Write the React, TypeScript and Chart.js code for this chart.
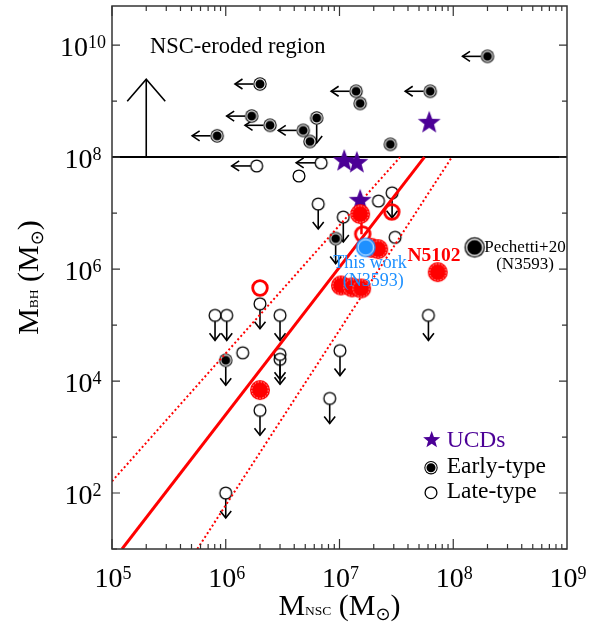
import React, { useEffect, useRef } from "react";
import { Chart, registerables } from "chart.js";
Chart.register(...registerables);

// ---------------- DATA ----------------
const X_MIN = 1e5;
const X_MAX = 1e9;
const Y_MIN = 10;
const Y_MAX = 5e10;
const xTickExps = [5, 6, 7, 8, 9];
const yTickExps = [2, 4, 6, 8, 10];

// early-type galaxies
const earlyLeftX = [2.0e6, 1.69e6, 2.45e6, 8.4e5, 4.8e6, 1.4e7, 6.27e7, 2.0e8];
const earlyLeftY = [2.02e9, 5.4e8, 3.7e8, 2.4e8, 3.0e8, 1.5e9, 1.5e9, 6.3e9];
const earlyDownX = [6.3e6, 9.25e6, 1.0e6];
const earlyDownY = [5.0e8, 3.5e6, 2.35e4];
const earlyX = [5.5e6, 1.52e7, 2.8e7];
const earlyY = [1.9e8, 9.1e8, 1.69e8];

// late-type galaxies
const lateLeftX = [1.87e6, 6.9e6];
const lateLeftY = [6.95e7, 7.9e7];
const lateDownX = [6.5e6, 1.08e7, 2.9e7, 2.0e6, 8.05e5, 1.02e6, 3.0e6, 3.0e6, 3.0e6, 1.01e7, 8.2e6, 2.0e6, 6.05e7, 1.0e6];
const lateDownY = [1.45e7, 8.5e6, 2.3e7, 2.4e5, 1.49e5, 1.49e5, 1.49e5, 3.0e4, 2.45e4, 3.5e4, 4.9e3, 3.0e3, 1.49e5, 100];
const lateX = [4.4e6, 2.2e7, 3.08e7, 1.41e6];
const lateY = [4.6e7, 1.64e7, 3.7e6, 3.2e4];

// red (dynamical) measurements
const redFilledX = [1.52e7, 1.9e7, 2.19e7, 1.03e7, 1.29e7, 1.55e7, 2.0e6];
const redFilledY = [9.6e6, 2.4e6, 2.27e6, 5.1e5, 4.7e5, 4.5e5, 6.9e3];
const n5102X = [7.3e7];
const n5102Y = [8.8e5];
const redOpenX = [2.0e6, 2.88e7, 1.6e7];
const redOpenY = [4.6e5, 1.05e7, 4.2e6];
const redLinkX = [1.56e7, 1.56e7];
const redLinkY = [9.6e6, 4.2e6];

// this work & Pechetti+20
const thisWorkX = [1.7e7];
const thisWorkY = [2.44e6];
const pechettiX = [1.54e8];
const pechettiY = [2.44e6];

// UCDs
const ucdX = [1.1e7, 1.42e7, 6.15e7, 1.52e7];
const ucdY = [8.5e7, 7.9e7, 4.1e8, 1.66e7];

// relations
const fitX = [1.225e5, 5.58e7];
const fitY = [10, 1e8];
const upperX = [1e5, 3.41e7];
const upperY = [162, 1e8];
const lowerX = [5.62e5, 9.73e7];
const lowerY = [10, 1e8];
const limitLineX = [1e5, 1e9];
const limitLineY = [1e8, 1e8];
const erodedArrowX = [2e5, 2e5];
const erodedArrowY = [1e8, 2.45e9];

// texts
const regionLabel = "NSC-eroded region";
const pechettiLabel = ["Pechetti+20", "(N3593)"];
const n5102Label = "N5102";
const thisWorkLabel = ["This work", "(N3593)"];
const legendLabels = ["UCDs", "Early-type", "Late-type"];

// ---------------- STYLE ----------------
const SERIF = '"Liberation Serif", "Times New Roman", serif';
const RED = "#FF0000";
const BLUE = "#1E90FF";
const PURPLE = "#4B0096";
const AXIS = "#333333";

function mk(size: number, draw: (ctx: CanvasRenderingContext2D, c: number) => void) {
  const cv = document.createElement("canvas");
  cv.width = size;
  cv.height = size;
  const ctx = cv.getContext("2d")!;
  draw(ctx, size / 2);
  return cv;
}
function circ(ctx: CanvasRenderingContext2D, x: number, y: number, r: number) {
  ctx.beginPath();
  ctx.arc(x, y, r, 0, Math.PI * 2);
}
function starPath(ctx: CanvasRenderingContext2D, cx: number, cy: number, R: number, ratio: number) {
  ctx.beginPath();
  for (let i = 0; i < 10; i++) {
    const r = i % 2 === 0 ? R : R * ratio;
    const a = -Math.PI / 2 + (i * Math.PI) / 5;
    const x = cx + r * Math.cos(a);
    const y = cy + r * Math.sin(a);
    if (i === 0) ctx.moveTo(x, y);
    else ctx.lineTo(x, y);
  }
  ctx.closePath();
}
function drawEarly(ctx: CanvasRenderingContext2D, x: number, y: number, r: number) {
  circ(ctx, x, y, r);
  ctx.fillStyle = "#000";
  ctx.fill();
  circ(ctx, x, y, r * 0.76);
  ctx.strokeStyle = "#fff";
  ctx.lineWidth = 1.1;
  ctx.stroke();
}
function drawLate(ctx: CanvasRenderingContext2D, x: number, y: number, r: number) {
  circ(ctx, x, y, r);
  ctx.strokeStyle = "#000";
  ctx.lineWidth = 1.3;
  ctx.stroke();
}
function drawStar(ctx: CanvasRenderingContext2D, x: number, y: number, R: number) {
  starPath(ctx, x, y, R, 0.42);
  ctx.fillStyle = PURPLE;
  ctx.fill();
}

const earlyImg = mk(18, (ctx, c) => drawEarly(ctx, c, c, 6.7));
const lateImg = mk(18, (ctx, c) => drawLate(ctx, c, c, 5.9));
const pechettiImg = mk(26, (ctx, c) => {
  circ(ctx, c, c, 10.2);
  ctx.fillStyle = "#000";
  ctx.fill();
  circ(ctx, c, c, 8.2);
  ctx.strokeStyle = "#fff";
  ctx.lineWidth = 1.4;
  ctx.stroke();
});
const redFilledImg = mk(26, (ctx, c) => {
  circ(ctx, c, c, 10);
  ctx.fillStyle = RED;
  ctx.fill();
  circ(ctx, c, c, 8.2);
  ctx.strokeStyle = "rgba(255,255,255,0.85)";
  ctx.setLineDash([1.5, 1.5]);
  ctx.lineWidth = 0.8;
  ctx.stroke();
});
const redOpenImg = mk(22, (ctx, c) => {
  circ(ctx, c, c, 7.3);
  ctx.strokeStyle = RED;
  ctx.lineWidth = 2.8;
  ctx.stroke();
});
const blueImg = mk(24, (ctx, c) => {
  circ(ctx, c, c, 9.8);
  ctx.fillStyle = BLUE;
  ctx.fill();
  circ(ctx, c, c, 7.8);
  ctx.strokeStyle = "rgba(255,255,255,0.9)";
  ctx.lineWidth = 1;
  ctx.stroke();
});
const starImg = mk(30, (ctx, c) => drawStar(ctx, c, c, 12));

const pts = (xs: number[], ys: number[]) => xs.map((x, i) => ({ x, y: ys[i] }));

function pointSet(label: string, xs: number[], ys: number[], img: HTMLCanvasElement, order: number, arrow?: string, arrowR?: number) {
  return {
    label,
    data: pts(xs, ys),
    pointStyle: img,
    pointRadius: 5,
    pointHoverRadius: 5,
    showLine: false,
    order,
    arrow,
    arrowR,
  } as any;
}
function lineSet(label: string, xs: number[], ys: number[], color: string, width: number, order: number, dash: number[] = []) {
  return {
    label,
    data: pts(xs, ys),
    showLine: true,
    borderColor: color,
    borderWidth: width,
    borderDash: dash,
    pointRadius: 0,
    fill: false,
    order,
  } as any;
}

// ---------------- PLUGIN ----------------
function drawPow(ctx: CanvasRenderingContext2D, exp: number, cx: number, baseline: number) {
  const big = `28px ${SERIF}`;
  const small = `18px ${SERIF}`;
  ctx.font = big;
  const wb = ctx.measureText("10").width;
  ctx.font = small;
  const we = ctx.measureText(String(exp)).width;
  const x0 = cx - (wb + we) / 2;
  ctx.textAlign = "left";
  ctx.textBaseline = "alphabetic";
  ctx.fillStyle = "#000";
  ctx.font = big;
  ctx.fillText("10", x0, baseline);
  ctx.font = small;
  ctx.fillText(String(exp), x0 + wb, baseline - 7.5);
}

type Part = { t: string; f: string; dy?: number };
function drawParts(ctx: CanvasRenderingContext2D, parts: Part[], cx: number, baseline: number) {
  let total = 0;
  for (const p of parts) {
    ctx.font = p.f;
    total += ctx.measureText(p.t).width;
  }
  let x = cx - total / 2;
  ctx.textAlign = "left";
  ctx.textBaseline = "alphabetic";
  for (const p of parts) {
    ctx.font = p.f;
    ctx.fillText(p.t, x, baseline + (p.dy || 0));
    x += ctx.measureText(p.t).width;
  }
}

function arrowHead(ctx: CanvasRenderingContext2D, tx: number, ty: number, dir: string, back: number, half: number) {
  ctx.beginPath();
  if (dir === "left") {
    ctx.moveTo(tx + back, ty - half);
    ctx.lineTo(tx, ty);
    ctx.lineTo(tx + back, ty + half);
  } else if (dir === "down") {
    ctx.moveTo(tx - half, ty - back);
    ctx.lineTo(tx, ty);
    ctx.lineTo(tx + half, ty - back);
  } else {
    ctx.moveTo(tx - half, ty + back);
    ctx.lineTo(tx, ty);
    ctx.lineTo(tx + half, ty + back);
  }
  ctx.stroke();
}

const decor = {
  id: "decor",
  beforeDatasetsDraw(chart: any) {
    const ctx: CanvasRenderingContext2D = chart.ctx;
    ctx.save();
    ctx.strokeStyle = "#000";
    ctx.lineWidth = 1.6;
    chart.data.datasets.forEach((ds: any, i: number) => {
      if (!ds.arrow) return;
      const meta = chart.getDatasetMeta(i);
      meta.data.forEach((el: any) => {
        const L = 25;
        const r = ds.arrowR || 6;
        ctx.beginPath();
        if (ds.arrow === "left") {
          ctx.moveTo(el.x - r, el.y);
          ctx.lineTo(el.x - L, el.y);
          ctx.stroke();
          arrowHead(ctx, el.x - L, el.y, "left", 7.5, 5);
        } else {
          ctx.moveTo(el.x, el.y + r);
          ctx.lineTo(el.x, el.y + L);
          ctx.stroke();
          arrowHead(ctx, el.x, el.y + L, "down", 7, 5.5);
        }
      });
    });
    // eroded-region arrow head
    const xs = chart.scales.x;
    const ys = chart.scales.y;
    const tx = xs.getPixelForValue(erodedArrowX[1]);
    const ty = ys.getPixelForValue(erodedArrowY[1]);
    ctx.lineWidth = 1.6;
    arrowHead(ctx, tx, ty, "up", 22, 19);
    ctx.restore();
  },
  afterDraw(chart: any) {
    const ctx: CanvasRenderingContext2D = chart.ctx;
    const a = chart.chartArea;
    const xs = chart.scales.x;
    const ys = chart.scales.y;
    ctx.save();
    // frame
    ctx.strokeStyle = AXIS;
    ctx.lineWidth = 1.5;
    ctx.strokeRect(a.left, a.top, a.right - a.left, a.bottom - a.top);
    // x ticks
    ctx.lineWidth = 1.2;
    for (let e = 5; e <= 8; e++) {
      for (let m = 1; m <= 9; m++) {
        const v = m * Math.pow(10, e);
        const px = xs.getPixelForValue(v);
        const len = m === 1 ? 10 : 5;
        ctx.beginPath();
        ctx.moveTo(px, a.bottom);
        ctx.lineTo(px, a.bottom - len);
        ctx.moveTo(px, a.top);
        ctx.lineTo(px, a.top + len);
        ctx.stroke();
      }
    }
    // y ticks
    for (let e = 1; e <= 10; e++) {
      const py = ys.getPixelForValue(Math.pow(10, e));
      const len = e % 2 === 0 ? 8 : 5;
      ctx.beginPath();
      ctx.moveTo(a.left, py);
      ctx.lineTo(a.left + len, py);
      ctx.moveTo(a.right, py);
      ctx.lineTo(a.right - len, py);
      ctx.stroke();
    }
    // tick labels
    xTickExps.forEach((e) => {
      drawPow(ctx, e, xs.getPixelForValue(Math.pow(10, e)) + 1, a.bottom + 37.5);
    });
    yTickExps.forEach((e) => {
      drawPow(ctx, e, 83, ys.getPixelForValue(Math.pow(10, e)) + 10.5);
    });
    // axis titles
    ctx.fillStyle = "#000";
    const big = `30px ${SERIF}`;
    const sub = `13.5px ${SERIF}`;
    const sun = `18px "DejaVu Sans"`;
    drawParts(
      ctx,
      [
        { t: "M", f: big },
        { t: "NSC", f: sub },
        { t: " (M", f: big },
        { t: "\u2299", f: sun, dy: 5 },
        { t: ")", f: big },
      ],
      (a.left + a.right) / 2,
      615
    );
    ctx.save();
    ctx.translate(38, (a.top + a.bottom) / 2);
    ctx.rotate(-Math.PI / 2);
    drawParts(
      ctx,
      [
        { t: "M", f: big },
        { t: "BH", f: sub },
        { t: " (M", f: big },
        { t: "\u2299", f: sun, dy: 5 },
        { t: ")", f: big },
      ],
      0,
      0
    );
    ctx.restore();

    // annotations
    ctx.textAlign = "left";
    ctx.textBaseline = "alphabetic";
    ctx.fillStyle = "#000";
    ctx.font = `22.5px ${SERIF}`;
    ctx.fillText(regionLabel, 150, 53.3);

    ctx.textAlign = "center";
    ctx.font = `17px ${SERIF}`;
    ctx.fillText(pechettiLabel[0], 525, 251.7);
    ctx.fillText(pechettiLabel[1], 525, 268.5);

    ctx.fillStyle = RED;
    ctx.font = `bold 19.5px ${SERIF}`;
    ctx.fillText(n5102Label, 434, 261);

    ctx.fillStyle = BLUE;
    ctx.font = `18px ${SERIF}`;
    ctx.fillText(thisWorkLabel[0], 370, 268.3);
    ctx.fillText(thisWorkLabel[1], 373.3, 286);

    // legend
    drawStar(ctx, 431.7, 440, 9);
    drawEarly(ctx, 431, 467.7, 6.7);
    drawLate(ctx, 431, 492.7, 5.9);
    ctx.textAlign = "left";
    ctx.font = `23.5px ${SERIF}`;
    ctx.fillStyle = PURPLE;
    ctx.fillText(legendLabels[0], 446.7, 446.7);
    ctx.fillStyle = "#000";
    ctx.fillText(legendLabels[1], 446.7, 473.3);
    ctx.fillText(legendLabels[2], 446.7, 498.3);
    ctx.restore();
  },
};

// ---------------- COMPONENT ----------------
export default function App() {
  const ref = useRef<HTMLCanvasElement>(null);
  useEffect(() => {
    const datasets = [
      lineSet("limit", limitLineX, limitLineY, "#000", 2, 100),
      lineSet("eroded", erodedArrowX, erodedArrowY, "#000", 1.6, 99),
      pointSet("late-left", lateLeftX, lateLeftY, lateImg, 90, "left", 5.9),
      pointSet("late-down", lateDownX, lateDownY, lateImg, 90, "down", 5.9),
      pointSet("late", lateX, lateY, lateImg, 90),
      pointSet("early-left", earlyLeftX, earlyLeftY, earlyImg, 85, "left", 6.7),
      pointSet("early-down", earlyDownX, earlyDownY, earlyImg, 85, "down", 6.7),
      pointSet("early", earlyX, earlyY, earlyImg, 85),
      lineSet("fit", fitX, fitY, RED, 3, 60),
      lineSet("upper", upperX, upperY, RED, 2, 60, [2, 2.5]),
      lineSet("lower", lowerX, lowerY, RED, 2, 60, [2, 2.5]),
      pointSet("ucd", ucdX, ucdY, starImg, 50),
      lineSet("redlink", redLinkX, redLinkY, RED, 2.5, 45),
      pointSet("redopen", redOpenX, redOpenY, redOpenImg, 40),
      pointSet("redfilled", redFilledX, redFilledY, redFilledImg, 35),
      pointSet("n5102", n5102X, n5102Y, redFilledImg, 35),
      pointSet("pechetti", pechettiX, pechettiY, pechettiImg, 20),
      pointSet("thiswork", thisWorkX, thisWorkY, blueImg, 10),
    ];
    const chart = new Chart(ref.current!, {
      type: "scatter",
      data: { datasets },
      options: {
        animation: false,
        responsive: false,
        devicePixelRatio: 1,
        events: [],
        layout: { padding: { left: 112, right: 32, top: 5, bottom: 77 } },
        plugins: { legend: { display: false }, tooltip: { enabled: false } },
        scales: {
          x: { type: "logarithmic", min: X_MIN, max: X_MAX, display: false },
          y: { type: "logarithmic", min: Y_MIN, max: Y_MAX, display: false },
        },
      },
      plugins: [decor],
    } as any);
    return () => chart.destroy();
  }, []);
  return (
    <canvas
      ref={ref}
      width={599}
      height={626}
      style={{ position: "fixed", left: 0, top: 0, width: 599, height: 626, background: "#fff" }}
    />
  );
}
